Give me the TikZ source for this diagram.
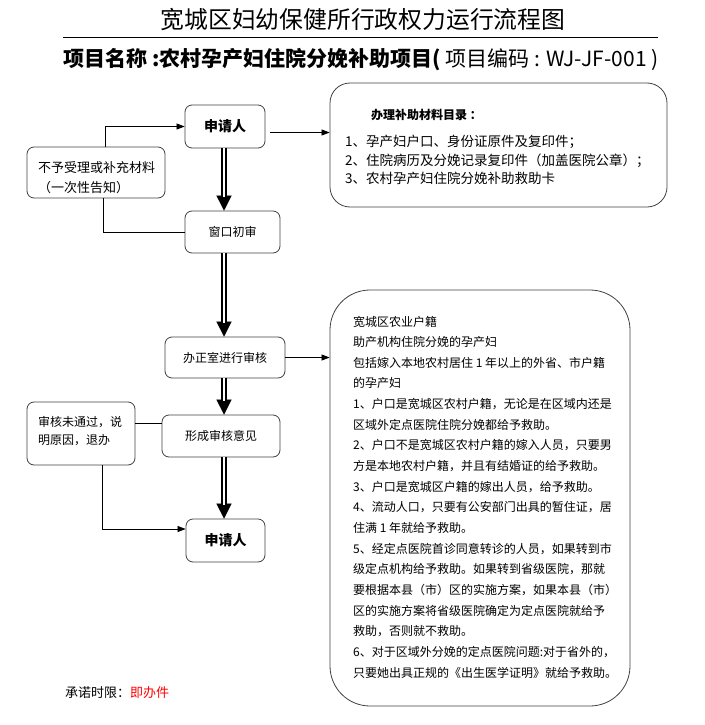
\documentclass[tikz,border=0pt]{standalone}
\usepackage{fontspec}
\setmainfont{Noto Sans CJK SC}
\usetikzlibrary{arrows.meta,calc}
\begin{document}
\begin{tikzpicture}[x=1pt,y=-1pt,
  box/.style={draw=black!75, line width=0.8pt, rounded corners=7pt, inner sep=0pt},
  thinline/.style={line width=0.7pt, draw=black},
  thinarrow/.style={thinline, -{Triangle[width=6pt,length=8pt]}},
  bigarrow/.style={line width=5.5pt, -{Triangle[width=15pt,length=15pt,line width=0.1pt]},
    postaction={draw=white, line width=2.2pt, -, shorten >=14pt}},
  txt/.style={anchor=base west, inner sep=0pt},
  f12/.style={font=\fontsize{12}{14}\selectfont},
  f13/.style={font=\fontsize{13}{15}\selectfont},
  f135/.style={font=\fontsize{13.5}{15}\selectfont},
]
\useasboundingbox (0,0) rectangle (704,725);

% titles
\node (title) at (363,20) {\fontsize{23.8}{26}\selectfont 宽城区妇幼保健所行政权力运行流程图};
\draw[line width=0.8pt] (63,37) -- (658,37);
\node (sub) at (361,60) {\fontsize{21}{23}\selectfont\bfseries 项目名称 :农村孕产妇住院分娩补助项目(\mdseries\ 项目编码 : WJ-JF-001 )};

% boxes
\node[box, minimum width=80pt, minimum height=43pt, font=\fontsize{14}{16}\selectfont\bfseries] (app1) at (225,126.5) {申请人};
\node[box, minimum width=138pt, minimum height=51pt] (reject1) at (96,172.5) {};
\node[box, minimum width=95pt, minimum height=42pt, f12] (window) at (232.5,232) {窗口初审};
\node[box, rounded corners=20pt, minimum width=337pt, minimum height=124pt] (mat) at (498.5,145) {};
\node[box, minimum width=120pt, minimum height=41pt, f12] (review) at (225,357.5) {办正室进行审核};
\node[box, minimum width=118pt, minimum height=42pt, f12] (opinion) at (221,436) {形成审核意见};
\node[box, minimum width=108pt, minimum height=63pt] (reject2) at (81,433.5) {};
\node[box, minimum width=79pt, minimum height=43pt, font=\fontsize{14}{16}\selectfont\bfseries] (app2) at (225.5,540.5) {申请人};
\node[box, rounded corners=40pt, minimum width=300pt, minimum height=416pt] (big) at (480,498) {};

% box texts
\node[txt, f13] (r1a) at (38,172.5) {不予受理或补充材料};
\node[txt, f13] (r1b) at (38,192.5) {（一次性告知）};
\node[txt, f12] (r2a) at (38,426.5) {审核未通过，说};
\node[txt, f12] (r2b) at (38,444.5) {明原因，退办};
\node[txt, font=\fontsize{12}{14}\selectfont\bfseries] (mh) at (371,119.5) {办理补助材料目录 ：};
\node[txt, f135] (m1) at (345,146.5) {1、孕产妇户口、身份证原件及复印件；};
\node[txt, f135] (m2) at (345,165) {2、住院病历及分娩记录复印件（加盖医院公章）；};
\node[txt, f135] (m3) at (345,183) {3、农村孕产妇住院分娩补助救助卡};

\foreach \t [count=\i] in {
  {宽城区农业户籍},
  {助产机构住院分娩的孕产妇},
  {包括嫁入本地农村居住 1 年以上的外省、市户籍},
  {的孕产妇},
  {1、户口是宽城区农村户籍，无论是在区域内还是},
  {区域外定点医院住院分娩都给予救助。},
  {2、户口不是宽城区农村户籍的嫁入人员，只要男},
  {方是本地农村户籍，并且有结婚证的给予救助。},
  {3、户口是宽城区户籍的嫁出人员，给予救助。},
  {4、流动人口，只要有公安部门出具的暂住证，居},
  {住满 1 年就给予救助。},
  {5、经定点医院首诊同意转诊的人员，如果转到市},
  {级定点机构给予救助。如果转到省级医院，那就},
  {要根据本县（市）区的实施方案，如果本县（市）},
  {区的实施方案将省级医院确定为定点医院就给予},
  {救助，否则就不救助。},
  {6、对于区域外分娩的定点医院问题:对于省外的，},
  {只要她出具正规的《出生医学证明》就给予救助。}}
  \node[txt, f12] (bl\i) at (353,{326+(\i-1)*20.65}) {\t};

\node[txt, f13] (limit) at (65,697.5) {承诺时限：\textcolor{red}{即办件}};

% connectors
\coordinate (col) at (224,0);
\draw[bigarrow] (app1.south -| col) -- (window.north -| col);
\draw[bigarrow] (window.south -| col) -- (review.north -| col);
\draw[bigarrow] (review.south -| col) -- (opinion.north -| col);
\draw[bigarrow] (opinion.south -| col) -- (app2.north -| col);

\draw[thinarrow] ([xshift=9pt]reject1.north) |- (app1.west);
\draw[thinline] (window.west) -| ([xshift=7pt]reject1.south);
\coordinate (a1) at ($(app1.east)+(5,6)$);
\draw[thinarrow] (a1) -- (a1 -| mat.west);
\draw[thinarrow] (review.east) -- (review.east -| big.west);
\coordinate (r2) at ($(reject2.east)+(0,-10.5)$);
\draw[thinline] (r2) -- (r2 -| opinion.west);
\coordinate (r2s) at ($(reject2.south)+(21,0)$);
\coordinate (a2) at ($(app2.west)+(0,-11.5)$);
\draw[thinarrow] (r2s) |- (a2);
\end{tikzpicture}
\end{document}
